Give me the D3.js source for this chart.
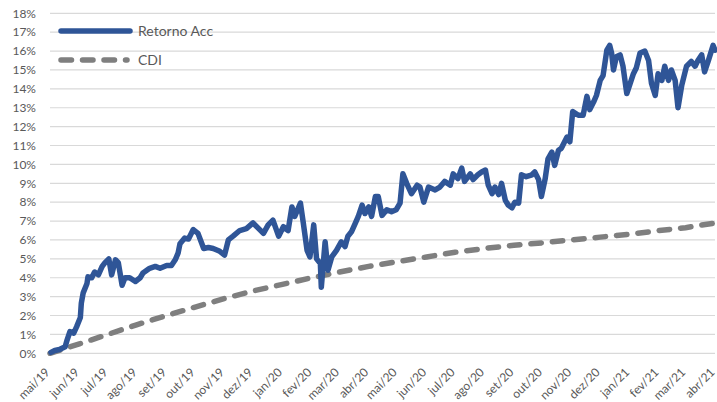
<!DOCTYPE html>
<html>
<head>
<meta charset="utf-8">
<script src="https://cdn.jsdelivr.net/npm/d3@7"></script>
<style>
  body { margin: 0; background: #fff; }
  svg { display: block; font-family: Lato, "Open Sans", sans-serif; }
</style>
</head>
<body>
<svg id="chart" width="717" height="402"></svg>
<script>
// Retorno acumulado (%)
let retDates = [
  "2019-05-02","2019-05-06","2019-05-11","2019-05-17","2019-05-19","2019-05-22","2019-05-26","2019-05-29",
  "2019-06-02","2019-06-03","2019-06-05","2019-06-09","2019-06-10","2019-06-14","2019-06-17","2019-06-21","2019-06-25","2019-06-28",
  "2019-07-02","2019-07-05","2019-07-09","2019-07-12","2019-07-16","2019-07-19","2019-07-24","2019-07-30",
  "2019-08-04","2019-08-07","2019-08-14","2019-08-20","2019-08-25",
  "2019-09-01","2019-09-06","2019-09-10","2019-09-13","2019-09-15","2019-09-20","2019-09-24","2019-09-29",
  "2019-10-04","2019-10-10","2019-10-15","2019-10-20","2019-10-27",
  "2019-11-01","2019-11-05","2019-11-10","2019-11-17","2019-11-24",
  "2019-12-01","2019-12-07","2019-12-12","2019-12-17","2019-12-22","2019-12-28",
  "2020-01-02","2020-01-07","2020-01-11","2020-01-14","2020-01-20","2020-01-23","2020-01-27","2020-01-30",
  "2020-02-03","2020-02-06","2020-02-10","2020-02-11","2020-02-15","2020-02-18","2020-02-22","2020-02-27",
  "2020-03-03","2020-03-07","2020-03-10","2020-03-14","2020-03-18","2020-03-21","2020-03-25","2020-03-28",
  "2020-04-01","2020-04-04","2020-04-08","2020-04-11","2020-04-15","2020-04-20","2020-04-25","2020-04-30",
  "2020-05-04","2020-05-07","2020-05-11","2020-05-16","2020-05-22","2020-05-25","2020-05-29",
  "2020-06-03","2020-06-10","2020-06-15","2020-06-20","2020-06-26","2020-06-29",
  "2020-07-04","2020-07-08","2020-07-11","2020-07-17","2020-07-20","2020-07-25","2020-07-29",
  "2020-08-02","2020-08-05","2020-08-09","2020-08-12","2020-08-16","2020-08-19","2020-08-23","2020-08-26","2020-08-30",
  "2020-09-02","2020-09-06","2020-09-09","2020-09-14","2020-09-20","2020-09-23","2020-09-27","2020-09-30",
  "2020-10-04","2020-10-07","2020-10-11","2020-10-14","2020-10-18","2020-10-21","2020-10-27","2020-10-30",
  "2020-11-02","2020-11-08","2020-11-13","2020-11-17","2020-11-20","2020-11-24","2020-11-27",
  "2020-12-01","2020-12-04","2020-12-08","2020-12-11","2020-12-13","2020-12-15","2020-12-18","2020-12-22","2020-12-25","2020-12-29",
  "2021-01-01","2021-01-05","2021-01-08","2021-01-12","2021-01-17","2021-01-21","2021-01-24","2021-01-28","2021-01-31",
  "2021-02-04","2021-02-07","2021-02-11","2021-02-14","2021-02-18","2021-02-21","2021-02-25",
  "2021-03-02","2021-03-07","2021-03-11","2021-03-14","2021-03-18","2021-03-21","2021-03-25","2021-03-30",
  "2021-04-01"
];
let retValues = [
  0.05,0.15,0.2,0.35,0.7,1.15,1.07,1.4,
  1.9,2.65,3.2,3.7,4.05,4.0,4.3,4.15,4.6,4.8,
  5.0,4.15,4.95,4.8,3.6,4.0,4.0,3.8,
  4.0,4.25,4.5,4.6,4.5,
  4.65,4.65,4.95,5.3,5.8,6.1,6.05,6.55,
  6.35,5.55,5.6,5.55,5.4,
  5.2,6.0,6.2,6.5,6.6,
  6.9,6.6,6.35,6.8,7.05,6.2,
  6.7,6.5,7.75,7.25,7.95,6.9,5.45,5.1,
  6.8,5.0,4.75,3.5,5.9,4.4,5.1,5.45,
  5.9,5.65,6.2,6.45,6.9,7.25,7.85,7.4,
  7.75,7.25,8.3,8.3,7.3,7.6,7.5,7.6,
  7.95,9.5,9.0,8.45,8.9,8.8,8.0,
  8.8,8.65,8.8,9.1,8.9,9.5,
  9.25,9.8,9.1,9.5,9.2,9.45,9.6,
  9.7,8.9,8.45,8.8,8.4,9.0,8.1,7.85,7.7,
  8.0,7.95,9.45,9.35,9.45,9.6,9.2,8.3,
  9.25,10.3,10.65,9.95,10.75,10.85,11.45,11.2,
  12.8,12.6,12.6,13.6,12.9,13.3,13.65,
  14.45,14.7,16.05,16.3,15.9,15.0,15.7,15.8,15.2,13.75,
  14.2,14.8,15.1,15.9,16.0,15.5,14.3,13.65,14.8,
  14.45,15.2,14.45,15.0,14.45,13.0,14.2,
  15.2,15.45,15.2,15.5,15.8,14.9,15.5,16.3,
  16.05
];

// CDI acumulado (%), start of each month
let cdiDates = [
  "2019-05-01","2019-06-01","2019-07-01","2019-08-01","2019-09-01","2019-10-01","2019-11-01","2019-12-01",
  "2020-01-01","2020-02-01","2020-03-01","2020-04-01","2020-05-01","2020-06-01","2020-07-01","2020-08-01",
  "2020-09-01","2020-10-01","2020-11-01","2020-12-01","2021-01-01","2021-02-01","2021-03-01","2021-04-01"
];
let cdiValues = [
  0, 0.5, 1.0, 1.52, 2.0, 2.45, 2.9, 3.3,
  3.65, 4.0, 4.3, 4.6, 4.85, 5.1, 5.35, 5.55,
  5.72, 5.85, 6.0, 6.15, 6.3, 6.5, 6.65, 6.9
];

let monthNames = ["jan","fev","mar","abr","mai","jun","jul","ago","set","out","nov","dez"];
let yTicks = d3.range(0, 19, 1);
let seriesNames = ["Retorno Acc", "CDI"];

let parse = d3.timeParse("%Y-%m-%d");
let retData = retDates.map((d, i) => ({ date: parse(d), value: retValues[i] }));
let cdiData = cdiDates.map((d, i) => ({ date: parse(d), value: cdiValues[i] }));

let svg = d3.select("#chart");

let x = d3.scaleTime()
    .domain([parse("2019-05-01"), parse("2021-04-01")])
    .range([50, 715]);

let y = d3.scaleLinear()
    .domain([0, 18])
    .range([353.3, 13.3]);

// gridlines
svg.append("g")
    .selectAll("line")
    .data(yTicks)
    .enter()
    .append("line")
    .attr("x1", 50)
    .attr("x2", 715)
    .attr("y1", d => y(d))
    .attr("y2", d => y(d))
    .attr("stroke", "#d9d9d9")
    .attr("stroke-width", 1.2);

// y labels
svg.append("g")
    .selectAll("text")
    .data(yTicks)
    .enter()
    .append("text")
    .attr("x", 36)
    .attr("y", d => y(d))
    .attr("dy", "0.35em")
    .attr("text-anchor", "end")
    .attr("fill", "#595959")
    .style("font-size", "12px")
    .text(d => d + "%");

// x axis labels
let xAxis = d3.axisBottom(x)
    .ticks(d3.timeMonth.every(1))
    .tickSize(0)
    .tickFormat(d => monthNames[d.getMonth()] + "/" + String(d.getFullYear()).slice(2));

let gx = svg.append("g")
    .call(xAxis);
gx.select(".domain").remove();
gx.selectAll("text")
    .attr("fill", "#595959")
    .style("font-size", "12px")
    .style("font-family", "Lato, sans-serif")
    .attr("text-anchor", "end")
    .attr("x", 0)
    .attr("y", 0)
    .attr("dy", 0)
    .attr("transform", "translate(0,373) rotate(-45)");

let line = d3.line()
    .x(d => x(d.date))
    .y(d => y(d.value));

svg.append("path")
    .datum(cdiData)
    .attr("fill", "none")
    .attr("stroke", "#7f7f7f")
    .attr("stroke-width", 5.5)
    .attr("stroke-linecap", "round")
    .attr("stroke-dasharray", "10.5,11")
    .attr("d", line);

svg.append("path")
    .datum(retData)
    .attr("fill", "none")
    .attr("stroke", "#2f5597")
    .attr("stroke-width", 5.5)
    .attr("stroke-linejoin", "round")
    .attr("stroke-linecap", "round")
    .attr("d", line);

// legend
let legend = svg.append("g");
let legendY = [31, 60];

legend.append("line")
    .attr("x1", 61).attr("x2", 130)
    .attr("y1", legendY[0]).attr("y2", legendY[0])
    .attr("stroke", "#2f5597")
    .attr("stroke-width", 5.5)
    .attr("stroke-linecap", "round");

legend.append("line")
    .attr("x1", 61).attr("x2", 127)
    .attr("y1", legendY[1]).attr("y2", legendY[1])
    .attr("stroke", "#7f7f7f")
    .attr("stroke-width", 5.5)
    .attr("stroke-linecap", "round")
    .attr("stroke-dasharray", "10.5,11");

legend.selectAll("text")
    .data(seriesNames)
    .enter()
    .append("text")
    .attr("x", 138)
    .attr("y", (d, i) => legendY[i])
    .attr("dy", "0.35em")
    .attr("fill", "#595959")
    .style("font-size", "14px")
    .text(d => d);
</script>
</body>
</html>
